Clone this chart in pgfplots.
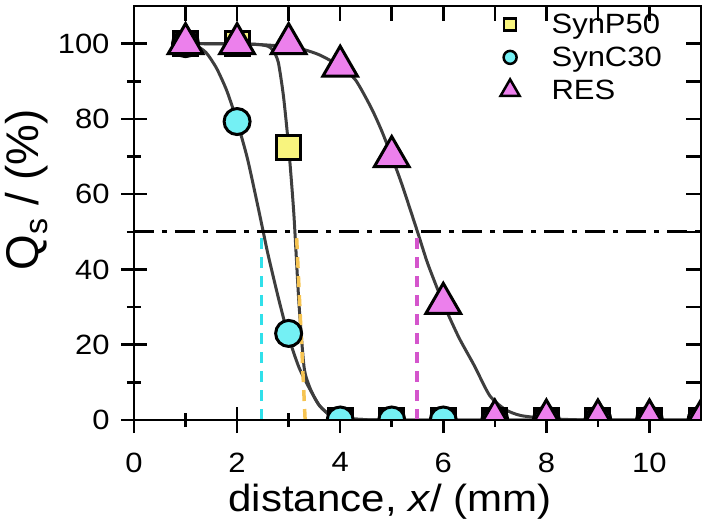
\documentclass[border=0pt]{standalone}
\usepackage{pgfplots}
\pgfplotsset{compat=1.18}
\usepackage{fontspec}
\setmainfont{Liberation Sans}[FakeStretch=1.11]
\newfontfamily\ylabfam{Liberation Sans}
\definecolor{ycol}{HTML}{F8F47E}
\definecolor{ccol}{HTML}{74F0F4}
\definecolor{mcol}{HTML}{EC80EC}
\definecolor{cdash}{HTML}{30E0EA}
\definecolor{odash}{HTML}{F6C452}
\definecolor{mdash}{HTML}{D455CC}
\definecolor{fitcol}{HTML}{3E3E3E}
\newcommand\tickfont{\fontsize{28}{30}\selectfont}
\newcommand\labfont{\fontsize{38}{40}\selectfont}
\newcommand\ylabfont{\ylabfam\fontsize{46}{48}\selectfont}
\begin{document}
\begin{tikzpicture}
\path[use as bounding box] (-134bp,-108bp) rectangle (574bp,420bp);
\begin{axis}[
  scale only axis, width=567bp, height=414bp,
  xmin=0, xmax=11, ymin=0, ymax=110,
  axis line style={line width=2.5bp},
  every tick/.style={line width=2.5bp, black},
  xtick={0,2,...,10}, ytick={0,20,...,100},
  xticklabels={0,2,4,6,8,10}, yticklabels={0,20,40,60,80,100},
  minor x tick num=1, minor y tick num=1,
  tick pos=left, tick align=center,
  major tick length=26bp, minor tick length=14bp,
  tick label style={font=\tickfont},
  xticklabel style={yshift=-16bp},
  yticklabel style={xshift=-8bp},
  xlabel={distance, \textit{x}/ (mm)},
  ylabel={Q\textsubscript{s} / (\%)},
  xlabel style={font=\labfont, at={(axis description cs:0.452,0)}, anchor=base, yshift=-91bp},
  ylabel style={font=\ylabfont, at={(axis description cs:-0.2328,0.556)}, anchor=north},
  clip marker paths=true,
  legend style={at={(axis cs:7.05,109)}, anchor=north west, draw=none, fill=none,
    font=\tickfont, row sep=8bp,
    /tikz/every odd column/.append style={column sep=30bp}},
  legend cell align=left,
]
\addlegendimage{only marks, mark=square*, mark size=6bp, mark options={fill=ycol, draw=black, line width=2.5bp}}
\addlegendentry{SynP50}
\addlegendimage{only marks, mark=*, mark size=6.5bp, mark options={fill=ccol, draw=black, line width=2.5bp}}
\addlegendentry{SynC30}
\addlegendimage{only marks, mark=triangle*, mark size=11bp, mark options={fill=mcol, draw=black, line width=2.5bp}}
\addlegendentry{RES}
% fitted curves
\addplot[fitcol, line width=3bp, smooth, tension=0.4, forget plot] coordinates {
(1,100)(1.2,99.5)(1.4,97.6)(1.6,93.5)(1.8,87.5)(2.0,79.3)(2.2,69.5)(2.4,57)(2.5,50.5)(2.6,44)(2.8,32.5)(3.0,22)(3.2,14)(3.4,8.5)(3.6,3.8)(3.8,1.3)(4.0,0.5)(4.5,0.1)(5,0)(11,0)};
\addplot[fitcol, line width=3bp, smooth, tension=0.4, forget plot] coordinates {
(1,100)(2,100)(2.4,99.8)(2.6,99.3)(2.7,98.2)(2.8,95)(2.9,86)(3.0,72.5)(3.1,55)(3.2,31)(3.3,14)(3.4,9)(3.5,6)(3.6,3.8)(3.8,1.3)(4.0,0.5)(4.5,0.1)(5,0)(11,0)};
\addplot[fitcol, line width=3bp, smooth, tension=0.4, forget plot] coordinates {
(1,100)(2,99.9)(2.5,99.7)(3,99.2)(3.3,98.4)(3.6,97)(4,94)(4.3,90.3)(4.6,83)(4.8,77)(5,70)(5.2,62.5)(5.5,50)(5.7,41.5)(6,31)(6.3,22)(6.6,14.5)(6.9,6.5)(7.2,2.8)(7.5,1.2)(8,0.4)(8.5,0.1)(9,0)(11,0)};
% guide lines
\addplot[cdash, line width=3.5bp, dash pattern=on 11bp off 8bp, forget plot] coordinates {(2.47,0)(2.47,50)};
\addplot[odash, line width=3.5bp, dash pattern=on 11bp off 8bp, forget plot] coordinates {(3.32,0)(3.15,50)};
\addplot[mdash, line width=3.5bp, dash pattern=on 11bp off 8bp, forget plot] coordinates {(5.49,0)(5.49,50)};
\addplot[black, line width=3bp, dash pattern=on 20bp off 8bp on 5bp off 8bp, forget plot] coordinates {(0,50)(11,50)};
% data
\addplot[only marks, mark=square*, mark size=12bp, mark options={fill=ycol, draw=black, line width=3bp}, forget plot] coordinates {
(1,100)(2,100)(3,72.5)(4,0)(5,0)(6,0)(7,0)(8,0)(9,0)(10,0)(11,0)};
\addplot[only marks, mark=*, mark size=13bp, mark options={fill=ccol, draw=black, line width=3bp}, forget plot] coordinates {
(1,100)(2,79.3)(3,23)(4,0)(5,0)(6,0)(7,0)(8,0)(9,0)(10,0)(11,0)};
\addplot[only marks, mark=triangle*, mark size=20bp, mark options={fill=mcol, draw=black, line width=3bp}, forget plot] coordinates {
(1,100)(2,100)(3,100)(4,94)(5,70)(6,31)(7,0)(8,0)(9,0)(10,0)(11,0)};
\end{axis}
\begin{axis}[
  scale only axis, width=567bp, height=414bp,
  xmin=0, xmax=11, ymin=0, ymax=110,
  axis line style={line width=2.5bp},
  every tick/.style={line width=2.5bp, black},
  xtick={1,...,10}, ytick={10,20,...,100},
  xticklabels={}, yticklabels={},
  tick pos=right, tick align=inside,
  major tick length=15bp,
]
\end{axis}
\end{tikzpicture}
\end{document}
